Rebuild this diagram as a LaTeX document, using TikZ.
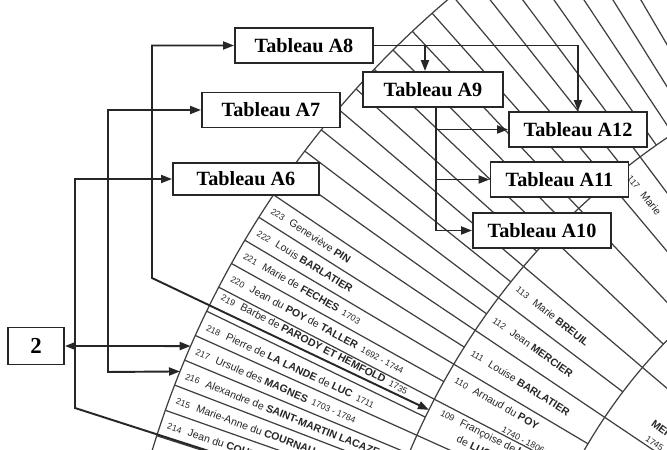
\documentclass[tikz,border=0pt]{standalone}
\usepackage{fontspec}
\setmainfont{Liberation Serif}
\newfontfamily\fanfont{Liberation Sans}
\usetikzlibrary{arrows.meta, calc}

\tikzset{
  tableau/.style={draw=black!85, line width=1.1pt, fill=white,
    minimum width=27.6mm, minimum height=7mm, inner sep=0pt,
    font=\fontsize{11.5}{13}\selectfont\bfseries},
  fanline/.style={black!75, line width=0.7pt},
  conn/.style={black!85, line width=1.1pt, -{Triangle[length=2.2mm, width=1.6mm]}},
  conn2/.style={conn, {Triangle[length=2.2mm, width=1.6mm]}-{Triangle[length=2.2mm, width=1.6mm]}},
  ancetre/.style={font=\fanfont\fontsize{6}{7}\selectfont, text=black!85, inner sep=0.5pt, anchor=west},
}
\newcommand{\fannum}[1]{{\fontsize{5}{6}\selectfont #1}\hspace{4pt}}
\newcommand{\fandate}[1]{\hspace{3pt}{\fontsize{5}{6}\selectfont #1}}
\newcommand{\ancetre}[4]{\node[ancetre, rotate=#2-180] (#1) at (#2:#3) {#4};}

\begin{document}
\begin{tikzpicture}[x=0.2mm, y=0.2mm]
  \useasboundingbox (0,0) rectangle (667,450);
  \fill[white] (0,0) rectangle (667,450);
  \clip (0,0) rectangle (667,450);

  % l'eventail, centre hors cadre en bas a droite
  \begin{scope}[shift={(1067,-278)}]
    \draw[fanline] (112:956) arc[start angle=112, end angle=167, radius=191.2mm];
    \draw[fanline] (112:713) arc[start angle=112, end angle=167, radius=142.6mm];
    \draw[fanline] (112:557) arc[start angle=112, end angle=167, radius=111.4mm];
    \draw[fanline] (112:420) arc[start angle=112, end angle=167, radius=84mm];
    \foreach \k in {-17,...,11}
      \draw[fanline] ({146.1+1.61*\k}:713) -- ({146.1+1.61*\k}:956);
    \foreach \k in {-8,...,4}
      \draw[fanline] ({146.1+3.22*\k}:557) -- ({146.1+3.22*\k}:713);
    \foreach \k in {-2,...,1}
      \draw[fanline] ({146.1+6.44*\k}:420) -- ({146.1+6.44*\k}:557);

    % generation 8
    \ancetre{p223}{146.9}{950}{\fannum{223}Geneviève \textbf{PIN}}
    \ancetre{p222}{148.5}{950}{\fannum{222}Louis \textbf{BARLATIER}}
    \ancetre{p221}{150.1}{950}{\fannum{221}Marie de \textbf{FECHES}\fandate{1703}}
    \ancetre{p220}{151.7}{950}{\fannum{220}Jean du \textbf{POY} de \textbf{TALLER}\fandate{1692 - 1744}}
    \ancetre{p219}{152.95}{950}{\fannum{219}Barbe de \textbf{PARODY ET HEMFOLD}\fandate{1735}}
    \ancetre{p218}{155.0}{950}{\fannum{218}Pierre de \textbf{LA LANDE} de \textbf{LUC}\fandate{1711}}
    \ancetre{p217}{156.6}{950}{\fannum{217}Ursule des \textbf{MAGNES}\fandate{1703 - 1784}}
    \ancetre{p216}{158.2}{950}{\fannum{216}Alexandre de \textbf{SAINT-MARTIN LACAZE}}
    \ancetre{p215}{159.8}{950}{\fannum{215}Marie-Anne du \textbf{COURNAU}}
    \ancetre{p214}{161.4}{950}{\fannum{214}Jean du \textbf{COURNAU}}

    % generation 7
    \ancetre{p117}{128.4}{705}{\fannum{117}Marie}
    \ancetre{p113}{141.3}{705}{\fannum{113}Marie \textbf{BREUIL}}
    \ancetre{p112}{144.5}{705}{\fannum{112}Jean \textbf{MERCIER}}
    \ancetre{p111}{147.7}{705}{\fannum{111}Louise \textbf{BARLATIER}}
    \ancetre{p110}{150.3}{705}{\fannum{110}Arnaud du \textbf{POY}}
    \ancetre{d110}{152.1}{640}{\fontsize{5}{6}\selectfont 1740 - 1806}
    \ancetre{p109}{153.3}{702}{\fannum{109}Françoise de \textbf{LA LANDE}}
    \ancetre{q109}{154.6}{676}{de \textbf{LUC}}

    % generation 6
    \ancetre{p56}{143.6}{516}{\textbf{MERCIER}}
    \ancetre{d56}{145.4}{512}{\fontsize{5}{6}\selectfont 1745}

    \coordinate (t2) at (156.45:956);
    \coordinate (t7) at (158.1:956);
    \coordinate (t8) at (153.5:713);
    \coordinate (t6) at (162.1:713);
  \end{scope}

  % tableaux
  \node[tableau] (A8) at (304,404.5) {Tableau A8};
  \node[tableau] (A7) at (271,340) {Tableau A7};
  \node[tableau, minimum width=29.2mm, minimum height=6.4mm] (A6) at (246,271) {Tableau A6};
  \node[tableau, minimum width=28mm] (A9) at (433,360.5) {Tableau A9};
  \node[tableau] (A12) at (578,320.5) {Tableau A12};
  \node[tableau] (A11) at (559.5,270.5) {Tableau A11};
  \node[tableau] (A10) at (542,219.5) {Tableau A10};
  \node[tableau, minimum width=11.2mm, minimum height=7.4mm,
    font=\fontsize{13}{15}\selectfont\bfseries] (b2) at (36,104) {2};

  \coordinate (k8) at (152,172);
  \coordinate (k7) at (108,78);
  \coordinate (k6) at (75,42);

  % renvois
  \draw[conn2] (A8.west) -| (k8) -- (t8);
  \draw[conn2] (A7.west) -| (k7) -- (t7);
  \draw[conn2] (A6.west) -| (k6) -- (t6);
  \draw[conn2] (b2.east) -- (t2);
  \draw[conn] (A8.east) -| (A12.north);
  \draw[conn] ([xshift=-1.6mm]A9.north |- A8.east) -- ([xshift=-1.6mm]A9.north);
  \draw[conn] ([xshift=0.6mm]A9.south) |- (A12.west);
  \draw[conn] ([xshift=0.6mm]A9.south) |- (A11.west);
  \draw[conn] ([xshift=0.6mm]A9.south) |- (A10.west);
\end{tikzpicture}
\end{document}
